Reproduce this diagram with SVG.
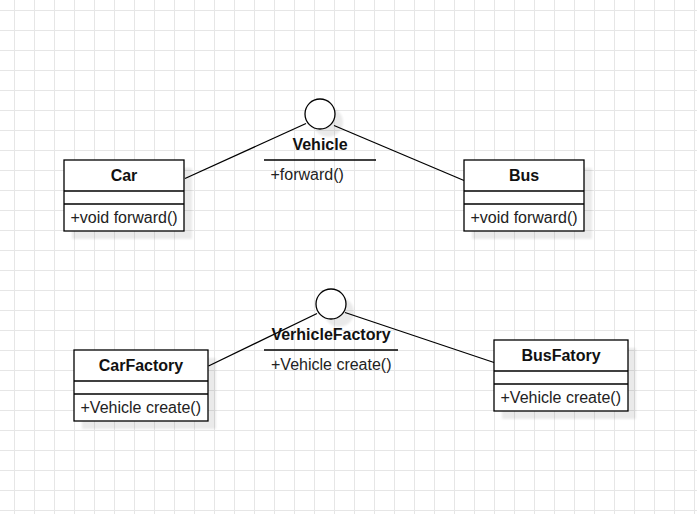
<svg xmlns="http://www.w3.org/2000/svg" width="697" height="514" viewBox="0 0 697 514">
<style>
.box{fill:#fff;stroke:#000;stroke-width:1.3}
.sep{stroke:#000;stroke-width:1.3;fill:none}
.sh{fill:#000;opacity:0.08;filter:url(#blur)}
.title{font-family:"Liberation Sans",Arial,sans-serif;font-size:16px;font-weight:bold;fill:#111;text-anchor:middle}
.m{font-family:"Liberation Sans",Arial,sans-serif;font-size:16px;fill:#222}
.conn{stroke:#000;stroke-width:1.3;fill:none}
</style>
<defs>
<filter id="blur" x="-20%" y="-20%" width="140%" height="140%"><feGaussianBlur stdDeviation="0.8"/></filter>
<pattern id="grid" x="14" y="10" width="20" height="20" patternUnits="userSpaceOnUse">
<path d="M0 0.5H20M0.5 0V20" stroke="#e6e6e6" stroke-width="1" fill="none"/>
</pattern>
</defs>
<rect width="697" height="514" fill="#fff"/>
<rect width="697" height="514" fill="url(#grid)"/>
<g id="connectors">
<line class="conn" x1="185" y1="178.5" x2="306" y2="123.5"/>
<line class="conn" x1="334" y1="125.5" x2="464" y2="180.5"/>
<line class="conn" x1="208.5" y1="366" x2="317" y2="313.5"/>
<line class="conn" x1="345" y1="312.5" x2="494" y2="362.5"/>
</g>
<g id="vehicle">
<circle class="sh" cx="328" cy="122" r="15"/>
<circle class="box" cx="320" cy="114" r="15"/>
<text class="title" x="320" y="150">Vehicle</text>
<line class="sep" x1="264" y1="160" x2="376" y2="160"/>
<text class="m" x="270.5" y="180">+forward()</text>
</g>
<g id="car">
<rect class="sh" x="72" y="168" width="120" height="71"/>
<rect class="box" x="64" y="160" width="120" height="71"/>
<line class="sep" x1="64" y1="191" x2="184" y2="191"/>
<line class="sep" x1="64" y1="204" x2="184" y2="204"/>
<text class="title" x="124" y="181">Car</text>
<text class="m" x="70.5" y="222.5">+void forward()</text>
</g>
<g id="bus">
<rect class="sh" x="472" y="168" width="120" height="71"/>
<rect class="box" x="464" y="160" width="120" height="71"/>
<line class="sep" x1="464" y1="191" x2="584" y2="191"/>
<line class="sep" x1="464" y1="204" x2="584" y2="204"/>
<text class="title" x="524" y="181">Bus</text>
<text class="m" x="470.5" y="222.5">+void forward()</text>
</g>
<g id="verhiclefactory">
<circle class="sh" cx="339" cy="312" r="15"/>
<circle class="box" cx="331" cy="304" r="15"/>
<text class="title" x="331" y="340">VerhicleFactory</text>
<line class="sep" x1="264" y1="350" x2="398" y2="350"/>
<text class="m" x="271" y="369.5">+Vehicle create()</text>
</g>
<g id="carfactory">
<rect class="sh" x="82" y="358" width="134" height="71"/>
<rect class="box" x="74" y="350" width="134" height="71"/>
<line class="sep" x1="74" y1="381" x2="208" y2="381"/>
<line class="sep" x1="74" y1="394" x2="208" y2="394"/>
<text class="title" x="141" y="371">CarFactory</text>
<text class="m" x="80.5" y="412.5">+Vehicle create()</text>
</g>
<g id="busfatory">
<rect class="sh" x="502" y="348" width="134" height="71"/>
<rect class="box" x="494" y="340" width="134" height="71"/>
<line class="sep" x1="494" y1="371" x2="628" y2="371"/>
<line class="sep" x1="494" y1="384" x2="628" y2="384"/>
<text class="title" x="561" y="361">BusFatory</text>
<text class="m" x="500.5" y="402.5">+Vehicle create()</text>
</g>
</svg>
